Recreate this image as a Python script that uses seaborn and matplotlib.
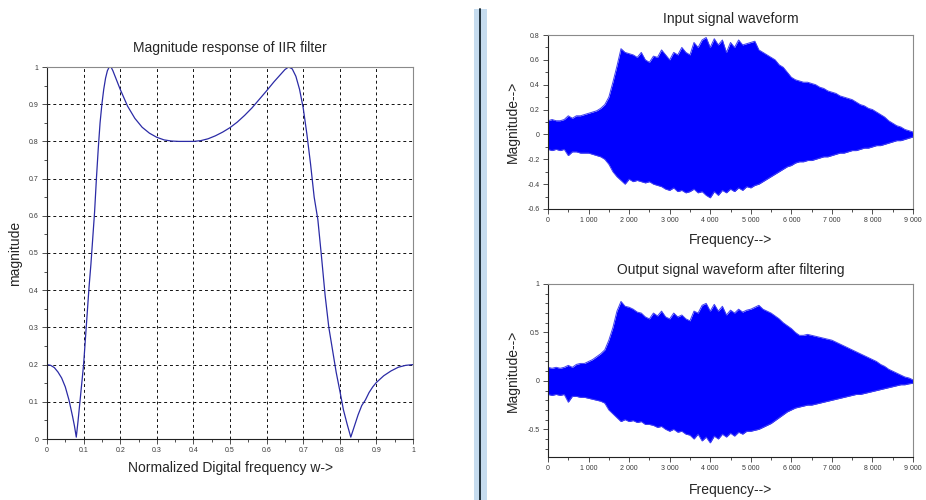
import matplotlib
matplotlib.use("Agg")
import matplotlib.pyplot as plt
import seaborn as sns
import pandas as pd
from matplotlib.ticker import MultipleLocator, FuncFormatter
from matplotlib.patches import Rectangle
from matplotlib.lines import Line2D

# ---------------- data ----------------
# Magnitude response of IIR filter
w = [0.00, 0.01, 0.02, 0.03, 0.04, 0.05, 0.06, 0.07, 0.075, 0.080, 0.085, 0.09, 0.095,
     0.10, 0.105, 0.11, 0.115, 0.12, 0.125, 0.13, 0.135, 0.14, 0.145, 0.15, 0.155, 0.16,
     0.165, 0.17, 0.175, 0.18, 0.19, 0.20, 0.22, 0.24, 0.26, 0.28, 0.30, 0.32, 0.34, 0.36,
     0.38, 0.40, 0.42, 0.44, 0.46, 0.48, 0.50, 0.52, 0.54, 0.56, 0.58, 0.60, 0.62, 0.64,
     0.65, 0.66, 0.67, 0.68, 0.69, 0.70, 0.71, 0.72, 0.73, 0.74, 0.75, 0.76, 0.77, 0.78,
     0.79, 0.80, 0.81, 0.82, 0.83, 0.84, 0.85, 0.86, 0.87, 0.88, 0.89, 0.90, 0.92, 0.94,
     0.96, 0.98, 1.00]
mag = [0.200, 0.198, 0.192, 0.180, 0.164, 0.140, 0.105, 0.060, 0.035, 0.005, 0.050, 0.100, 0.150,
       0.200, 0.270, 0.340, 0.410, 0.470, 0.540, 0.610, 0.700, 0.780, 0.850, 0.900, 0.940, 0.970,
       0.990, 1.000, 1.000, 0.990, 0.965, 0.940, 0.895, 0.862, 0.838, 0.822, 0.811, 0.804, 0.801, 0.800,
       0.800, 0.800, 0.802, 0.807, 0.815, 0.825, 0.837, 0.852, 0.870, 0.890, 0.913, 0.936, 0.960, 0.982,
       0.993, 1.000, 0.995, 0.975, 0.940, 0.890, 0.820, 0.740, 0.650, 0.590, 0.490, 0.385, 0.300, 0.240,
       0.180, 0.130, 0.078, 0.040, 0.005, 0.035, 0.065, 0.090, 0.105, 0.125, 0.140, 0.152, 0.170, 0.183,
       0.193, 0.198, 0.200]

# Signal waveforms: envelope (max / min) read every 100 units along the x axis
freq = list(range(0, 9001, 100))
in_upper = [0.11, 0.12, 0.11, 0.11, 0.12, 0.15, 0.13, 0.15, 0.15, 0.16,
            0.17, 0.18, 0.19, 0.21, 0.24, 0.30, 0.42, 0.55, 0.69, 0.66,
            0.65, 0.64, 0.62, 0.66, 0.60, 0.58, 0.63, 0.62, 0.68, 0.64,
            0.60, 0.66, 0.64, 0.70, 0.66, 0.64, 0.74, 0.70, 0.76, 0.78,
            0.70, 0.77, 0.72, 0.76, 0.66, 0.74, 0.70, 0.76, 0.72, 0.73,
            0.74, 0.75, 0.68, 0.66, 0.64, 0.62, 0.60, 0.56, 0.54, 0.50,
            0.46, 0.44, 0.43, 0.42, 0.42, 0.41, 0.40, 0.38, 0.37, 0.35,
            0.34, 0.33, 0.31, 0.30, 0.29, 0.28, 0.26, 0.24, 0.23, 0.21,
            0.20, 0.18, 0.16, 0.14, 0.11, 0.09, 0.07, 0.06, 0.04, 0.03, 0.02]
in_lower = [-0.12, -0.13, -0.12, -0.13, -0.12, -0.17, -0.14, -0.14, -0.15, -0.15,
            -0.15, -0.16, -0.17, -0.18, -0.20, -0.24, -0.30, -0.34, -0.37, -0.40,
            -0.36, -0.38, -0.37, -0.38, -0.39, -0.38, -0.40, -0.41, -0.42, -0.44,
            -0.45, -0.43, -0.46, -0.45, -0.47, -0.46, -0.44, -0.47, -0.46, -0.49,
            -0.51, -0.46, -0.49, -0.45, -0.47, -0.44, -0.46, -0.43, -0.45, -0.42,
            -0.43, -0.41, -0.40, -0.38, -0.36, -0.34, -0.32, -0.30, -0.28, -0.26,
            -0.25, -0.23, -0.22, -0.22, -0.21, -0.21, -0.20, -0.19, -0.18, -0.18,
            -0.17, -0.16, -0.15, -0.15, -0.14, -0.13, -0.13, -0.12, -0.11, -0.11,
            -0.10, -0.09, -0.09, -0.08, -0.07, -0.06, -0.05, -0.05, -0.04, -0.03, -0.02]
out_upper = [0.14, 0.13, 0.14, 0.13, 0.14, 0.16, 0.14, 0.17, 0.18, 0.18,
             0.20, 0.22, 0.25, 0.28, 0.32, 0.42, 0.55, 0.72, 0.82, 0.77,
             0.76, 0.74, 0.71, 0.70, 0.66, 0.64, 0.70, 0.67, 0.72, 0.66,
             0.64, 0.70, 0.66, 0.68, 0.64, 0.62, 0.72, 0.70, 0.78, 0.80,
             0.72, 0.79, 0.72, 0.77, 0.68, 0.73, 0.70, 0.74, 0.71, 0.73,
             0.74, 0.76, 0.78, 0.74, 0.72, 0.70, 0.67, 0.64, 0.60, 0.57,
             0.54, 0.50, 0.47, 0.47, 0.48, 0.47, 0.46, 0.45, 0.44, 0.43,
             0.42, 0.40, 0.38, 0.36, 0.34, 0.32, 0.30, 0.28, 0.26, 0.24,
             0.22, 0.20, 0.17, 0.15, 0.12, 0.10, 0.08, 0.06, 0.04, 0.03, 0.01]
out_lower = [-0.14, -0.15, -0.14, -0.15, -0.14, -0.22, -0.16, -0.16, -0.17, -0.17,
             -0.18, -0.19, -0.20, -0.21, -0.23, -0.30, -0.34, -0.38, -0.42, -0.40,
             -0.42, -0.41, -0.43, -0.42, -0.45, -0.45, -0.46, -0.48, -0.47, -0.50,
             -0.52, -0.50, -0.53, -0.52, -0.55, -0.56, -0.60, -0.55, -0.62, -0.58,
             -0.64, -0.57, -0.60, -0.55, -0.58, -0.54, -0.57, -0.53, -0.55, -0.52,
             -0.52, -0.51, -0.50, -0.48, -0.46, -0.44, -0.41, -0.38, -0.35, -0.32,
             -0.30, -0.28, -0.27, -0.26, -0.25, -0.25, -0.24, -0.23, -0.22, -0.21,
             -0.20, -0.19, -0.18, -0.17, -0.16, -0.15, -0.14, -0.14, -0.13, -0.12,
             -0.11, -0.10, -0.09, -0.08, -0.07, -0.06, -0.05, -0.04, -0.04, -0.03, -0.025]

# ---------------- style ----------------
sns.set_style("white")
plt.rcParams['font.family'] = ['Liberation Sans', 'DejaVu Sans']
plt.rcParams['axes.unicode_minus'] = False

W, H = 926, 500
fig = plt.figure(figsize=(W / 100, H / 100), dpi=100)
fig.patch.set_facecolor("white")


def box(l, t, r, b):
    return [l / W, 1 - b / H, (r - l) / W, (b - t) / H]


TICK_FS = 5.0
LAB_FS = 10


def style_axes(ax):
    for s in ("left", "bottom"):
        ax.spines[s].set_color("#222222")
        ax.spines[s].set_linewidth(0.8)
    for s in ("top", "right"):
        ax.spines[s].set_color("#8a8a8a")
        ax.spines[s].set_linewidth(0.8)
    ax.tick_params(which="both", direction="out", colors="#333333", labelcolor="#3a3a3a",
                   labelsize=TICK_FS, width=0.6, pad=2.5,
                   top=False, right=False, left=True, bottom=True)
    ax.tick_params(which="major", length=3.5)
    ax.tick_params(which="minor", length=2)
    ax.set_facecolor("white")


num_fmt = FuncFormatter(lambda v, _: f"{v:g}")
thou_fmt = FuncFormatter(lambda v, _: f"{int(round(v)):,}".replace(",", " "))

# ---------------- left: magnitude response ----------------
ax1 = fig.add_axes(box(47, 67, 413, 439))
df_mag = pd.DataFrame({"w": w, "mag": mag})
sns.lineplot(data=df_mag, x="w", y="mag", ax=ax1, color="#2b2ba6", linewidth=0.9, sort=False)
ax1.set_xlim(0, 1)
ax1.set_ylim(0, 1)
ax1.xaxis.set_major_locator(MultipleLocator(0.1))
ax1.xaxis.set_minor_locator(MultipleLocator(0.05))
ax1.yaxis.set_major_locator(MultipleLocator(0.1))
ax1.yaxis.set_minor_locator(MultipleLocator(0.05))
ax1.xaxis.set_major_formatter(num_fmt)
ax1.yaxis.set_major_formatter(num_fmt)
style_axes(ax1)
ax1.grid(True, which="major", color="#111111", linestyle=(0, (3, 3)), linewidth=0.7)
ax1.set_axisbelow(True)
ax1.set_title("Magnitude response of IIR filter", fontsize=LAB_FS, pad=11)
ax1.set_xlabel("Normalized Digital frequency w->", fontsize=LAB_FS)
ax1.set_ylabel("magnitude", fontsize=LAB_FS)
ax1.xaxis.set_label_coords(0.5, -0.078)
ax1.yaxis.set_label_coords(-0.087, 0.5)
ax1.xaxis.label.set_va("center")
ax1.yaxis.label.set_va("center")


def wave(ax, upper, lower, ylim, major, minor, title, tpad, xlab_y):
    df = pd.DataFrame({"f": freq, "up": upper, "lo": lower})
    ax.fill_between(df["f"], df["lo"], df["up"], color="#0000ff", linewidth=0)
    sns.lineplot(data=df, x="f", y="up", ax=ax, color="#4040f0", linewidth=0.7)
    sns.lineplot(data=df, x="f", y="lo", ax=ax, color="#4040f0", linewidth=0.7)
    ax.set_xlim(0, 9000)
    ax.set_ylim(*ylim)
    ax.xaxis.set_major_locator(MultipleLocator(1000))
    ax.xaxis.set_minor_locator(MultipleLocator(500))
    ax.yaxis.set_major_locator(MultipleLocator(major))
    ax.yaxis.set_minor_locator(MultipleLocator(minor))
    ax.xaxis.set_major_formatter(thou_fmt)
    ax.yaxis.set_major_formatter(num_fmt)
    style_axes(ax)
    ax.grid(False)
    ax.set_title(title, fontsize=LAB_FS, pad=tpad)
    ax.set_xlabel("Frequency-->", fontsize=LAB_FS)
    ax.set_ylabel("Magnitude-->", fontsize=LAB_FS)
    ax.xaxis.set_label_coords(0.5, xlab_y)
    ax.yaxis.set_label_coords(-0.096, 0.5)
    ax.xaxis.label.set_va("center")
    ax.yaxis.label.set_va("center")


ax2 = fig.add_axes(box(548, 35, 913, 209))
wave(ax2, in_upper, in_lower, (-0.6, 0.8), 0.2, 0.1, "Input signal waveform", 9, -0.178)

ax3 = fig.add_axes(box(548, 284, 913, 457))
wave(ax3, out_upper, out_lower, (-0.786, 1.0), 0.5, 0.1,
     "Output signal waveform after filtering", 7.5, -0.191)

# ---------------- window divider ----------------
fig.patches.append(Rectangle((474 / W, 0), 13 / W, (H - 9) / H, transform=fig.transFigure,
                             facecolor="#c6dcef", edgecolor="none", zorder=5))
fig.lines.append(Line2D([480 / W, 480 / W], [0, (H - 9) / H], transform=fig.transFigure,
                        color="#1f2f3a", linewidth=1.4, zorder=6))

fig.savefig("out.png", dpi=100, facecolor="white")
